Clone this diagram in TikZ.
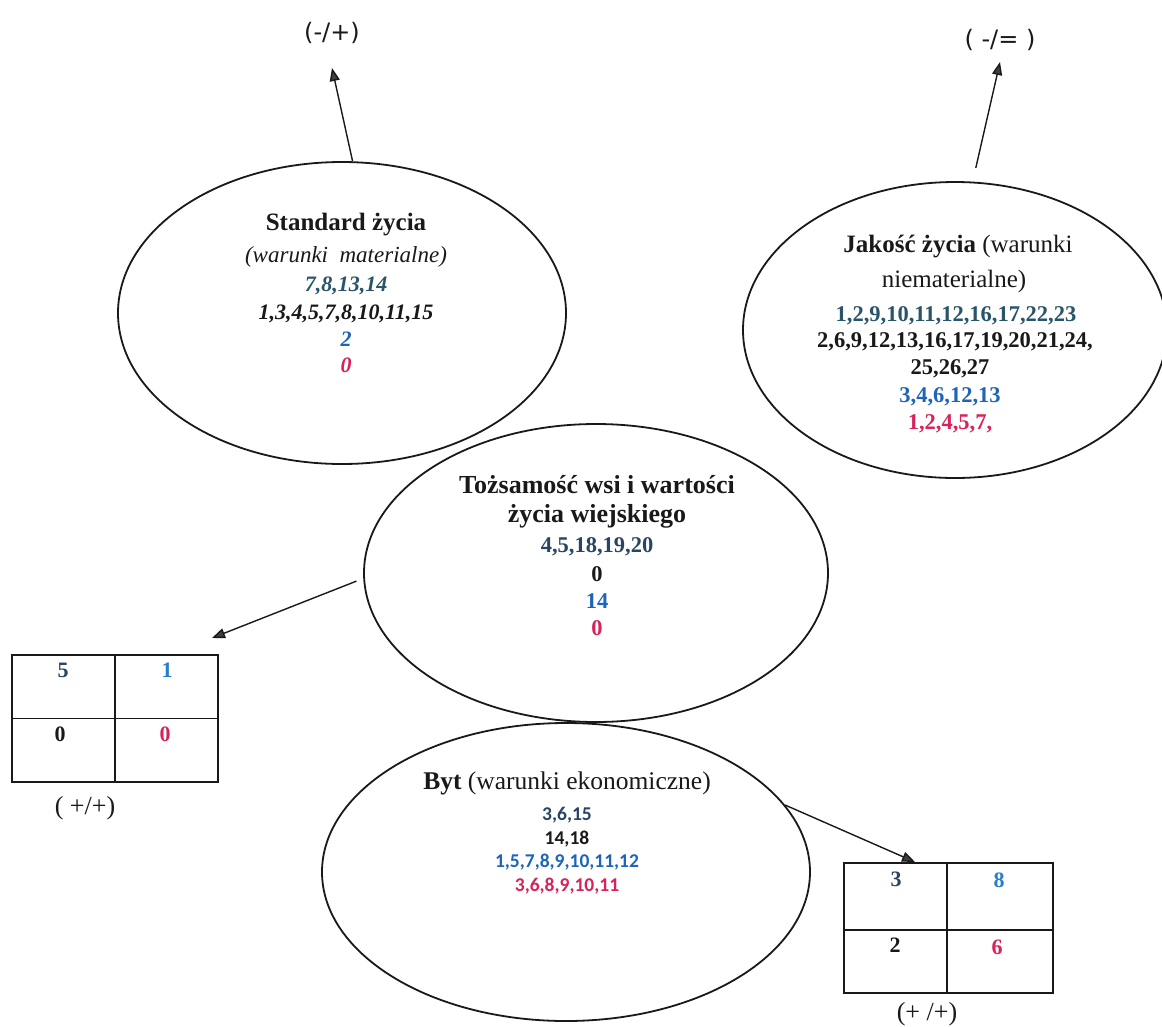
\documentclass[tikz,border=0pt]{standalone}
\usepackage{fontspec}
\setmainfont{Liberation Serif}
\newfontfamily\calib{Carlito}
\newfontfamily\djv{DejaVu Sans}
\usetikzlibrary{shapes.geometric,arrows.meta}
\definecolor{ink}{RGB}{25,25,25}
\definecolor{slate}{RGB}{40,70,100}
\definecolor{tealdk}{RGB}{40,85,105}
\definecolor{numblue}{RGB}{30,100,185}
\definecolor{brblue}{RGB}{40,125,205}
\definecolor{numred}{RGB}{215,35,90}
\definecolor{arrgray}{RGB}{60,60,70}
\newcommand{\fs}[1]{\fontsize{#1}{#1}\selectfont}
\tikzset{
  ell/.style={draw=ink, line width=1.8pt, ellipse, inner sep=0pt},
  arr/.style={draw=ink, line width=1.4pt, -{Triangle[length=13pt,width=10pt,fill=arrgray]}},
  tbl/.style={draw=ink, line width=1.3pt, rectangle, inner sep=0pt},
  tline/.style={draw=ink, line width=1.3pt},
  ln/.style={inner sep=0pt, anchor=mid, text=ink},
}
\begin{document}
\begin{tikzpicture}[x=1pt,y=-1pt]
\useasboundingbox (0,0) rectangle (1162,1026);
\fill[white] (0,0) rectangle (1162,1026);

% ellipses
\node[ell, minimum width=448pt, minimum height=302pt] (tl) at (342,313) {};
\node[ell, minimum width=424pt, minimum height=296pt] (tr) at (955,330) {};
\node[ell, minimum width=464pt, minimum height=298pt] (mid) at (596,573) {};
\node[ell, minimum width=488pt, minimum height=298pt] (bot) at (566,872) {};

% Standard zycia
\node[ln, font=\fs{25}\bfseries] (tl1) at (346,228) {Standard życia};
\node[ln, font=\fs{23}\itshape] (tl2) at (346,260) {(warunki\ \ materialne)};
\node[ln, font=\fs{22}\bfseries\itshape, text=tealdk] (tl3) at (346,289) {7,8,13,14};
\node[ln, font=\fs{22}\bfseries\itshape] (tl4) at (346,317) {1,3,4,5,7,8,10,11,15};
\node[ln, font=\fs{22}\bfseries\itshape, text=numblue] (tl5) at (346,344) {2};
\node[ln, font=\fs{22}\bfseries\itshape, text=numred] (tl6) at (346,370) {0};

% Jakosc zycia
\node[ln, font=\fs{25}] (tr1) at (958,250) {\textbf{Jakość życia} (warunki};
\node[ln, font=\fs{25}] (tr2) at (954,285) {niematerialne)};
\node[ln, font=\fs{22.5}\bfseries, text=tealdk] (tr3) at (956,319) {1,2,9,10,11,12,16,17,22,23};
\node[ln, font=\fs{22.5}\bfseries] (tr4) at (955,345) {2,6,9,12,13,16,17,19,20,21,24,};
\node[ln, font=\fs{22.5}\bfseries] (tr5) at (950,372) {25,26,27};
\node[ln, font=\fs{22.5}\bfseries, text=numblue] (tr6) at (950,400) {3,4,6,12,13};
\node[ln, font=\fs{22.5}\bfseries, text=numred] (tr7) at (950,427) {1,2,4,5,7,};

% Tozsamosc
\node[ln, font=\fs{26}\bfseries] (m1) at (597,491) {Tożsamość wsi i wartości};
\node[ln, font=\fs{26}\bfseries] (m2) at (597,520) {życia wiejskiego};
\node[ln, font=\fs{22.5}\bfseries, text=slate] (m3) at (597,550) {4,5,18,19,20};
\node[ln, font=\fs{22.5}\bfseries] (m4) at (597,579) {0};
\node[ln, font=\fs{22.5}\bfseries, text=numblue] (m5) at (597,606) {14};
\node[ln, font=\fs{22.5}\bfseries, text=numred] (m6) at (597,633) {0};

% Byt
\node[ln, font=\fs{25.5}] (b1) at (567,787) {\textbf{Byt} (warunki ekonomiczne)};
\node[ln, font=\calib\fs{19.5}\bfseries, text=slate] (b2) at (567,818) {3,6,15};
\node[ln, font=\calib\fs{19.5}\bfseries] (b3) at (567,842) {14,18};
\node[ln, font=\calib\fs{19.5}\bfseries, text=numblue] (b4) at (567,865) {1,5,7,8,9,10,11,12};
\node[ln, font=\calib\fs{19.5}\bfseries, text=numred] (b5) at (567,889) {3,6,8,9,10,11};

% top labels
\node[ln, font=\djv\fs{24}] (lblA) at (332,38) {(-/+)};
\node[ln, font=\djv\fs{24}] (lblB) at (1000,45) {( -/= )};

% tables
\node[tbl, minimum width=206pt, minimum height=127pt] (tblL) at (115,718.5) {};
\draw[tline] (tblL.north) -- (tblL.south);
\draw[tline] (tblL.west) -- (tblL.east);
\node[ln, font=\fs{22}\bfseries, text=slate] (cL1) at (63,675) {5};
\node[ln, font=\fs{22}\bfseries, text=brblue] (cL2) at (167,675) {1};
\node[ln, font=\fs{22}\bfseries] (cL3) at (60,739) {0};
\node[ln, font=\fs{22}\bfseries, text=numred] (cL4) at (165,739) {0};
\node[ln, font=\fs{26}] (lblL) at (85,812) {( +/+)};

\node[tbl, minimum width=209pt, minimum height=130pt] (tblR) at (948.5,928) {};
\draw[tline] ([xshift=-1.5pt]tblR.north) -- ([xshift=-1.5pt]tblR.south);
\draw[tline] ([yshift=-2pt]tblR.west) -- ([yshift=-2pt]tblR.east);
\node[ln, font=\fs{22}\bfseries, text=slate] (cR1) at (896,884) {3};
\node[ln, font=\fs{22}\bfseries, text=brblue] (cR2) at (999,885) {8};
\node[ln, font=\fs{22}\bfseries] (cR3) at (895,950) {2};
\node[ln, font=\fs{22}\bfseries, text=numred] (cR4) at (997,952) {6};
\node[ln, font=\fs{26}] (lblR) at (927,1018) {(+ /+)};

% arrows
\coordinate (tipA) at (332,68);
\coordinate (tipB) at (1000,62);
\coordinate (tipC) at (212,638);
\coordinate (tipD) at (915,862);
\draw[arr] (tl.86) -- (tipA);
\draw[arr] ([yshift=14pt]tr.82) -- (tipB);
\draw[arr] ([xshift=-7pt]mid.182) -- (tipC);
\draw[arr] (bot.17) -- (tipD);
\end{tikzpicture}
\end{document}
